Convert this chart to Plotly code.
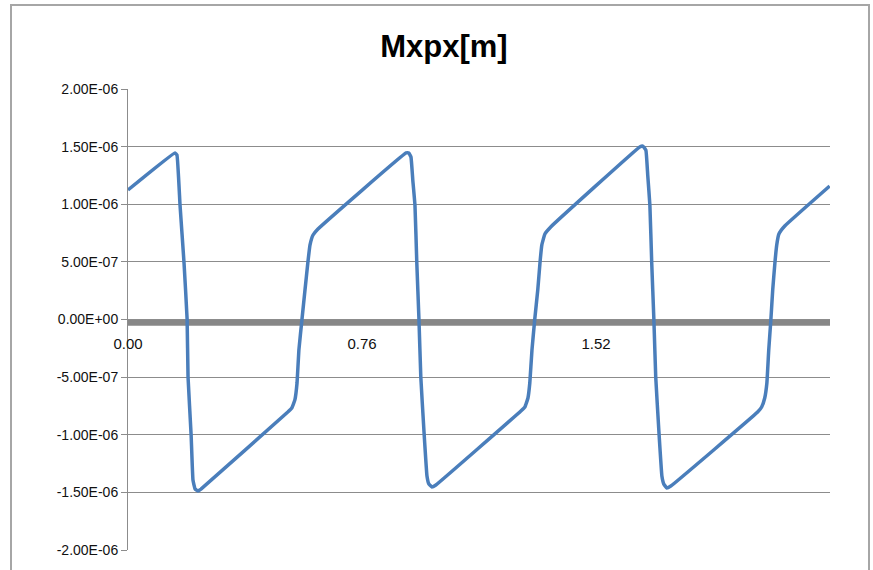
import plotly.graph_objects as go

# Data (x in chart units, y in metres)
x_vals = [0.000, 0.1526, 0.159, 0.169, 0.182, 0.192, 0.195, 0.205, 0.211, 0.218, 0.227, 0.237,
          0.519, 0.532, 0.542, 0.549, 0.555, 0.565, 0.575, 0.584, 0.591, 0.601, 0.617,
          0.903, 0.912, 0.919, 0.925, 0.932, 0.938, 0.945, 0.951, 0.961, 0.971, 0.977, 0.987, 1.000,
          1.276, 1.289, 1.299, 1.305, 1.312, 1.321, 1.331, 1.338, 1.344, 1.354, 1.373,
          1.662, 1.672, 1.682, 1.688, 1.695, 1.701, 1.708, 1.714, 1.724, 1.734, 1.740, 1.750, 1.763,
          2.045, 2.058, 2.068, 2.075, 2.081, 2.088, 2.094, 2.101, 2.107, 2.114, 2.133, 2.279]
y_micro = [1.124, 1.445, 1.427, 0.993, 0.490, 0.000, -0.499, -1.002, -1.393, -1.471, -1.488, -1.471,
           -0.803, -0.768, -0.698, -0.551, -0.265, 0.000, 0.260, 0.490, 0.646, 0.733, 0.785,
           1.445, 1.445, 1.410, 1.210, 0.993, 0.490, 0.000, -0.499, -0.959, -1.358, -1.427, -1.453, -1.436,
           -0.794, -0.759, -0.681, -0.551, -0.265, 0.000, 0.260, 0.490, 0.646, 0.742, 0.803,
           1.497, 1.505, 1.470, 1.253, 0.993, 0.490, 0.000, -0.499, -0.959, -1.358, -1.427, -1.462, -1.445,
           -0.803, -0.759, -0.681, -0.551, -0.265, 0.000, 0.260, 0.490, 0.646, 0.742, 0.811, 1.158]
y_vals = [v * 1e-6 for v in y_micro]

x_tickvals = [0.0, 0.76, 1.52]
x_ticktext = ["0.00", "0.76", "1.52"]
y_tickvals = [2e-6, 1.5e-6, 1e-6, 5e-7, 0.0, -5e-7, -1e-6, -1.5e-6, -2e-6]
y_ticktext = ["2.00E-06", "1.50E-06", "1.00E-06", "5.00E-07", "0.00E+00",
              "-5.00E-07", "-1.00E-06", "-1.50E-06", "-2.00E-06"]

FONT = "Liberation Sans"
GRID = "#8c8c8c"

fig = go.Figure()
fig.add_trace(go.Scatter(x=x_vals, y=y_vals, mode="lines",
                         line=dict(color="#4a7ebb", width=3.5, shape="spline", smoothing=0.3),
                         hoverinfo="skip", showlegend=False))

fig.update_layout(
    width=873, height=570,
    margin=dict(l=128, r=43, t=89, b=20),
    paper_bgcolor="white", plot_bgcolor="white",
    font=dict(family=FONT, size=14, color="#111111"),
    title=dict(text="<b>Mxpx[m]</b>", x=0.45, xref="paper", xanchor="center",
               y=1 - 46 / 570, yref="container", yanchor="middle",
               font=dict(family=FONT, size=31, color="#000000")),
    xaxis=dict(range=[0, 2.28], tickvals=x_tickvals, ticktext=x_ticktext,
               showgrid=False, zeroline=False, showline=False,
               anchor="free", position=0.5, ticks="outside", ticklen=10,
               tickcolor="rgba(0,0,0,0)", tickfont=dict(size=15)),
    yaxis=dict(range=[-2e-6, 2e-6], tickvals=y_tickvals, ticktext=y_ticktext,
               showgrid=True, gridcolor=GRID, gridwidth=1, zeroline=False,
               showline=True, linecolor=GRID, linewidth=1,
               ticks="outside", ticklen=6, tickcolor=GRID, tickfont=dict(size=14)),
    shapes=[
        dict(type="rect", xref="paper", yref="y", x0=0, x1=1, y0=0, y1=-5.5e-8,
             fillcolor="#878787", line=dict(width=0), layer="between"),
        dict(type="rect", xref="paper", yref="paper",
             x0=(11 - 128) / 702, x1=(869 - 128) / 702,
             y0=(550 - 600) / 461, y1=(550 - 5) / 461,
             line=dict(color="#a6a6a6", width=2), fillcolor="rgba(0,0,0,0)", layer="below"),
    ],
)

fig.write_html("out.html",
               config={"displayModeBar": False, "staticPlot": True},
               post_script="document.body.style.margin='0';document.body.style.overflow='hidden';")
